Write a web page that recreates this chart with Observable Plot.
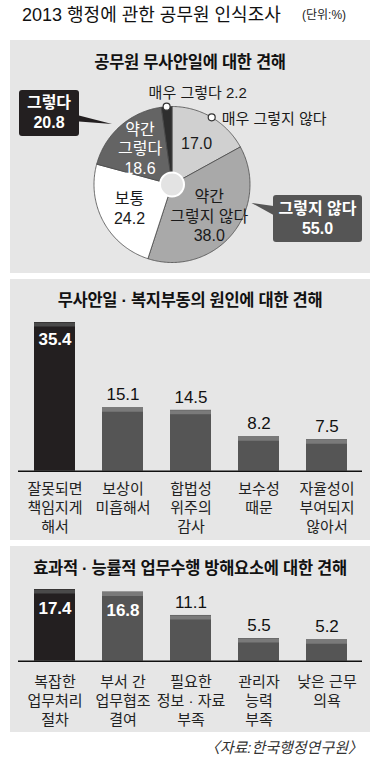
<!DOCTYPE html>
<html><head><meta charset="utf-8">
<script src="https://cdn.jsdelivr.net/npm/d3@7"></script>
<script src="https://cdn.jsdelivr.net/npm/@observablehq/plot@0.6"></script>
<style>
body{margin:0;background:#fff;font-family:"Liberation Sans","Noto Sans CJK KR",sans-serif;color:#111}
#wrap{position:relative;width:387px;height:773px;overflow:hidden}
.abs{position:absolute;white-space:nowrap}
.panel{position:absolute;left:10px;width:360px;background:#e6e6e6}
.panel svg{position:absolute;left:0;top:0}
.ptitle{position:absolute;left:0;width:360px;text-align:center;font-weight:bold;font-size:16.5px;line-height:20px;color:#111;letter-spacing:-0.3px;z-index:3;white-space:nowrap}
.box{position:absolute;color:#fff;font-weight:bold;font-size:16px;line-height:20px;text-align:center;border-radius:3px;display:flex;flex-direction:column;justify-content:center;z-index:3}
</style></head>
<body><div id="wrap">
<div class="abs" style="left:22px;top:4px;font-size:18px;line-height:22px;color:#111">2013 행정에 관한 공무원 인식조사</div>
<div class="abs" style="left:302px;top:7px;font-size:12px;line-height:16px;color:#222">(단위:%)</div>
<div class="panel" id="p1" style="top:40px;height:233px"><div class="ptitle" style="top:12px">공무원 무사안일에 대한 견해</div></div>
<div class="panel" id="p2" style="top:279px;height:261px"><div class="ptitle" style="top:11px">무사안일 · 복지부동의 원인에 대한 견해</div></div>
<div class="panel" id="p3" style="top:546px;height:186px"><div class="ptitle" style="top:12px">효과적 · 능률적 업무수행 방해요소에 대한 견해</div></div>
<div class="abs" style="right:24px;top:738px;font-size:15px;line-height:20px;font-style:italic;color:#333">〈자료:한국행정연구원〉</div>
</div>
<script>
// ---------- data ----------
const pieNames = ["매우 그렇지 않다", "약간 그렇지 않다", "보통", "약간 그렇다", "매우 그렇다"];
const pieValues = [17.0, 38.0, 24.2, 18.6, 2.2];
const pieInsideLabels = ["17.0", "약간\n그렇지 않다\n38.0", "보통\n24.2", "약간\n그렇다\n18.6", ""];
const pieCalloutSlices = ["매우 그렇다", "매우 그렇지 않다"];
const pieCalloutTexts = ["매우 그렇다 2.2", "매우 그렇지 않다"];
const groupNames = ["그렇다", "그렇지 않다"];
const groupValues = [20.8, 55.0];

const causeLabels = ["잘못되면\n책임지게\n해서", "보상이\n미흡해서", "합법성\n위주의\n감사", "보수성\n때문", "자율성이\n부여되지\n않아서"];
const causeValues = [35.4, 15.1, 14.5, 8.2, 7.5];

const obstacleLabels = ["복잡한\n업무처리\n절차", "부서 간\n업무협조\n결여", "필요한\n정보 · 자료\n부족", "관리자\n능력\n부족", "낮은 근무\n의욕"];
const obstacleValues = [17.4, 16.8, 11.1, 5.5, 5.2];

// ---------- styles / layout ----------
const FONT = '"Liberation Sans","Noto Sans CJK KR",sans-serif';
const pieColors = ["#d0d0d0", "#a9a9a9", "#ffffff", "#646464", "#2e2e2e"];
const pieTextColors = ["#1a1a1a", "#1a1a1a", "#1a1a1a", "#ffffff", "#1a1a1a"];
const PIE = {cx: 161.5, cy: 144, R: 78, labelK: 0.62, hole: 12};
const calloutOffsets = [{dx: -18, dy: -13}, {dx: 10, dy: 2}];
const groupBoxes = [
  {left: 9, top: 50, width: 60, height: 46, bg: "#231f20"},
  {left: 263, top: 155, width: 89, height: 47, bg: "#555555"}
];
const connectors = [
  {pts: "69,75.5 69,81.5 102,84", fill: "#231f20"},
  {pts: "241.5,163 263.5,166 263.5,175", fill: "#555555"}
];

// ---------- pie ----------
const total = d3.sum(pieValues);
let acc = 0;
const slices = pieNames.map((name, i) => {
  const a0 = acc / total * 2 * Math.PI; acc += pieValues[i];
  const a1 = acc / total * 2 * Math.PI;
  const n = Math.max(3, Math.ceil((a1 - a0) / (Math.PI / 180)));
  const pts = [{x: 0, y: 0}];
  for (let k = 0; k <= n; k++) { const a = a0 + (a1 - a0) * k / n; pts.push({x: Math.sin(a), y: Math.cos(a)}); }
  pts.push({x: 0, y: 0});
  const am = (a0 + a1) / 2;
  return {name, value: pieValues[i], pts, am, color: pieColors[i], label: pieInsideLabels[i], textColor: pieTextColors[i]};
});
const insideLabels = slices.filter(s => s.label).map(s => ({
  x: PIE.labelK * Math.sin(s.am), y: PIE.labelK * Math.cos(s.am), text: s.label, fill: s.textColor
}));
const callouts = pieCalloutSlices.map((nm, i) => {
  const s = slices.find(d => d.name === nm);
  return {x: Math.sin(s.am), y: Math.cos(s.am), text: pieCalloutTexts[i], off: calloutOffsets[i]};
});

const pie = Plot.plot({
  width: 360, height: 233, margin: 0,
  x: {domain: [-1, 1], range: [PIE.cx - PIE.R, PIE.cx + PIE.R], axis: null},
  y: {domain: [-1, 1], range: [PIE.cy + PIE.R, PIE.cy - PIE.R], axis: null},
  style: {background: "transparent", fontFamily: FONT, overflow: "visible"},
  marks: [
    ...slices.map(s => Plot.line(s.pts, {x: "x", y: "y", fill: s.color, stroke: "#4a4a4a", strokeWidth: 0.8, strokeLinejoin: "miter"})),
    Plot.dot([{x: 0, y: 0}], {x: "x", y: "y", r: PIE.hole, fill: "#e3e3e3", stroke: "#ffffff", strokeWidth: 2}),
    ...insideLabels.map(d => Plot.text([d], {x: "x", y: "y", text: "text", fill: d.fill, fontSize: 16, lineHeight: 1.22})),
    ...callouts.map(c => Plot.text([c], {x: "x", y: "y", text: "text", textAnchor: "start", dx: c.off.dx, dy: c.off.dy, fontSize: 15, fill: "#1a1a1a"})),
    Plot.dot(callouts, {x: "x", y: "y", r: 3.5, fill: "#fff", stroke: "#333", strokeWidth: 1.2})
  ]
});
const p1 = document.getElementById("p1");
p1.appendChild(pie);
// connectors
const ns = "http://www.w3.org/2000/svg";
const conSvg = document.createElementNS(ns, "svg");
conSvg.setAttribute("width", 360); conSvg.setAttribute("height", 233);
conSvg.style.zIndex = 2;
connectors.forEach(c => { const p = document.createElementNS(ns, "polygon"); p.setAttribute("points", c.pts); p.setAttribute("fill", c.fill); conSvg.appendChild(p); });
p1.appendChild(conSvg);
groupNames.forEach((g, i) => {
  const b = groupBoxes[i];
  const div = document.createElement("div");
  div.className = "box";
  Object.assign(div.style, {left: b.left + "px", top: b.top + "px", width: b.width + "px", height: b.height + "px", background: b.bg});
  div.innerHTML = `<div>${g}</div><div>${groupValues[i].toFixed(1)}</div>`;
  p1.appendChild(div);
});

// ---------- bars ----------
function bars(el, labels, values, o) {
  const data = labels.map((c, i) => ({c, v: values[i], i}));
  const chart = Plot.plot({
    width: 360, height: o.height, marginTop: o.marginTop, marginBottom: o.marginBottom, marginLeft: 8, marginRight: 8,
    x: {domain: labels, paddingInner: 0.4, paddingOuter: 0.2, axis: null},
    y: {domain: [0, o.yMax], axis: null},
    color: {type: "identity"},
    style: {background: "transparent", fontFamily: FONT, overflow: "visible"},
    marks: [
      Plot.barY(data, {x: "c", y: "v", fill: d => d.i === 0 ? "#231f20" : "#555555"}),
      Plot.tickY(data, {x: "c", y: "v", stroke: d => d.i === 0 ? "#4a4a4a" : "#7a7a7a", strokeWidth: 4, dy: 2}),
      Plot.ruleY([0], {stroke: "#111", strokeWidth: 1.5}),
      Plot.text(data.filter(d => d.v < 16), {x: "c", y: "v", text: d => d.v.toFixed(1), dy: -13, fontSize: 17, fill: "#111"}),
      Plot.text(data.filter(d => d.v >= 16), {x: "c", y: "v", text: d => d.v.toFixed(1), dy: o.insideDy, fontSize: 17, fontWeight: "bold", fill: "#fff"}),
      Plot.text(data, {x: "c", y: () => 0, text: "c", lineAnchor: "top", dy: o.labelDy, fontSize: 15, lineHeight: 1.27, fill: "#222"})
    ]
  });
  el.appendChild(chart);
}
bars(document.getElementById("p2"), causeLabels, causeValues, {height: 261, marginTop: 23.7, marginBottom: 69.3, yMax: 40, insideDy: 17, labelDy: 9});
bars(document.getElementById("p3"), obstacleLabels, obstacleValues, {height: 186, marginTop: 32.3, marginBottom: 71.3, yMax: 20, insideDy: 19, labelDy: 12});
</script>
</body></html>
